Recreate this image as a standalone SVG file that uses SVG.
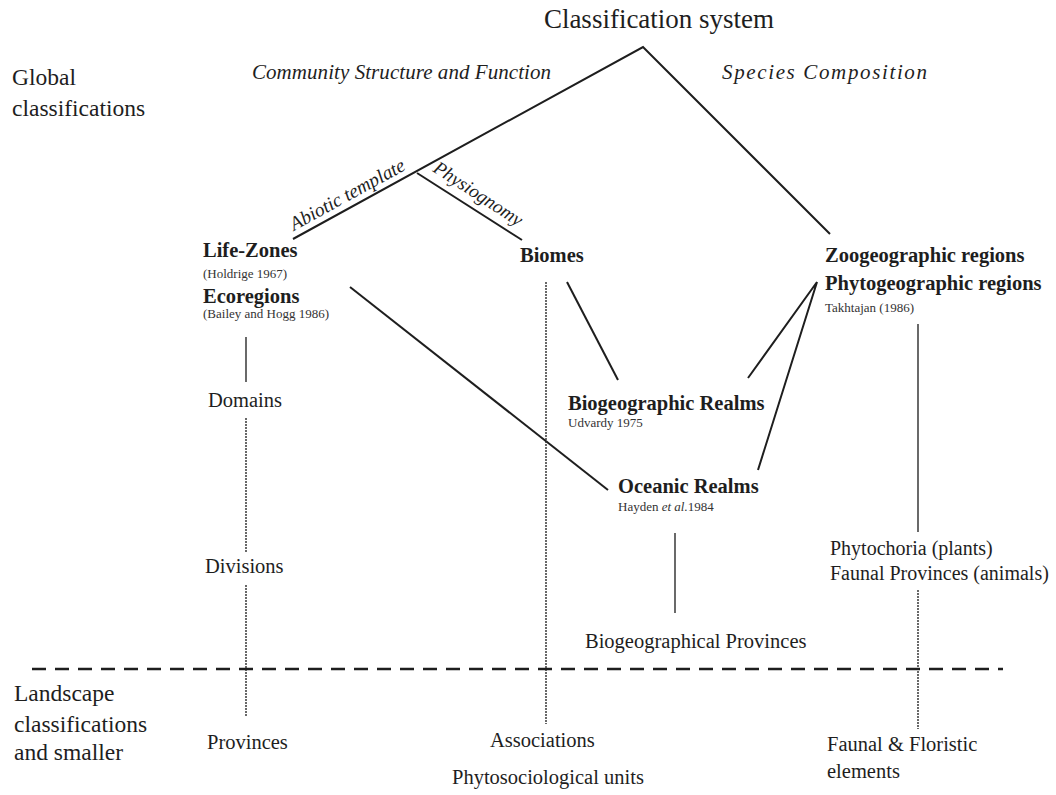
<svg xmlns="http://www.w3.org/2000/svg" width="1056" height="795" viewBox="0 0 1056 795">
<style>
text{font-family:"Liberation Serif","DejaVu Serif",serif;fill:#1e1e1e}
.ttl{font-size:27px}
.side{font-size:23.5px}
.ital{font-size:21px;font-style:italic}
.b{font-size:20.5px;font-weight:bold}
.r{font-size:20.5px}
.cite{font-size:13px;fill:#333}
.ln{stroke:#1e1e1e;stroke-width:2;fill:none}
.thin{stroke:#2a2a2a;stroke-width:1.4;fill:none}
.dot{stroke:#2a2a2a;stroke-width:1.4;fill:none;stroke-dasharray:2 1}
.dash{stroke:#1e1e1e;stroke-width:2.6;fill:none;stroke-dasharray:14 9}
</style>
<rect width="1056" height="795" fill="#ffffff"/>

<g id="title"><text class="ttl" x="659" y="28" text-anchor="middle">Classification system</text></g>
<g id="global-label"><text class="side" x="12" y="85">Global</text><text class="side" x="12" y="116">classifications</text></g>
<g id="landscape-label"><text class="side" x="14" y="701">Landscape</text><text class="side" x="14" y="732">classifications</text><text class="side" x="14" y="760">and smaller</text></g>
<g id="csf"><text class="ital" x="252" y="79" textLength="299">Community Structure and Function</text></g>
<g id="sc"><text class="ital" x="722" y="79" textLength="205">Species Composition</text></g>

<g id="connectors">
  <polyline class="ln" points="293,239 643,47 830,234"/>
  <line class="ln" x1="417" y1="173" x2="522" y2="240"/>
  <line class="ln" x1="350" y1="287" x2="608" y2="490"/>
  <line class="ln" x1="567" y1="282" x2="618" y2="380"/>
  <polyline class="ln" points="748,378 817,282 758,470"/>
  <line class="thin" x1="246" y1="337" x2="246" y2="382"/>
  <line class="dot" x1="246" y1="418" x2="246" y2="553"/>
  <line class="dot" x1="246" y1="585" x2="246" y2="716"/>
  <line class="dot" x1="546" y1="282" x2="546" y2="724"/>
  <line class="thin" x1="675" y1="533" x2="675" y2="613"/>
  <line class="thin" x1="918" y1="324" x2="918" y2="532"/>
  <line class="dot" x1="918" y1="590" x2="918" y2="729"/>
  <line class="dash" x1="32" y1="669" x2="1003" y2="669"/>
  <text class="ital" style="font-size:19.5px" transform="translate(294,231) rotate(-28.7)">Abiotic template</text>
  <text class="ital" style="font-size:19px" transform="translate(432,171) rotate(33)">Physiognomy</text>
</g>

<g id="life-zones"><text class="b" x="203" y="257">Life-Zones</text><text class="cite" x="203" y="278">(Holdrige 1967)</text></g>
<g id="ecoregions"><text class="b" x="203" y="303">Ecoregions</text><text class="cite" x="203" y="318">(Bailey and Hogg 1986)</text></g>
<g id="biomes"><text class="b" x="520" y="262">Biomes</text></g>
<g id="zoo-phyto"><text class="b" x="825" y="262">Zoogeographic regions</text><text class="b" x="825" y="290">Phytogeographic regions</text><text class="cite" x="825" y="312">Takhtajan (1986)</text></g>
<g id="bio-realms"><text class="b" x="568" y="410">Biogeographic Realms</text><text class="cite" x="568" y="427">Udvardy 1975</text></g>
<g id="oceanic-realms"><text class="b" x="618" y="493">Oceanic Realms</text><text class="cite" x="618" y="511">Hayden <tspan font-style="italic">et al.</tspan>1984</text></g>
<g id="domains"><text class="r" x="208" y="407">Domains</text></g>
<g id="divisions"><text class="r" x="205" y="573">Divisions</text></g>
<g id="phytochoria"><text class="r" style="font-size:20px" x="830" y="555">Phytochoria (plants)</text><text class="r" style="font-size:20px" x="830" y="580">Faunal Provinces (animals)</text></g>
<g id="bio-provinces"><text class="r" x="585" y="648">Biogeographical Provinces</text></g>
<g id="provinces"><text class="r" x="207" y="749">Provinces</text></g>
<g id="associations"><text class="r" x="490" y="747">Associations</text><text class="r" x="452" y="784">Phytosociological units</text></g>
<g id="faunal-floristic"><text class="r" x="827" y="751">Faunal &amp; Floristic</text><text class="r" x="827" y="778">elements</text></g>
</svg>
